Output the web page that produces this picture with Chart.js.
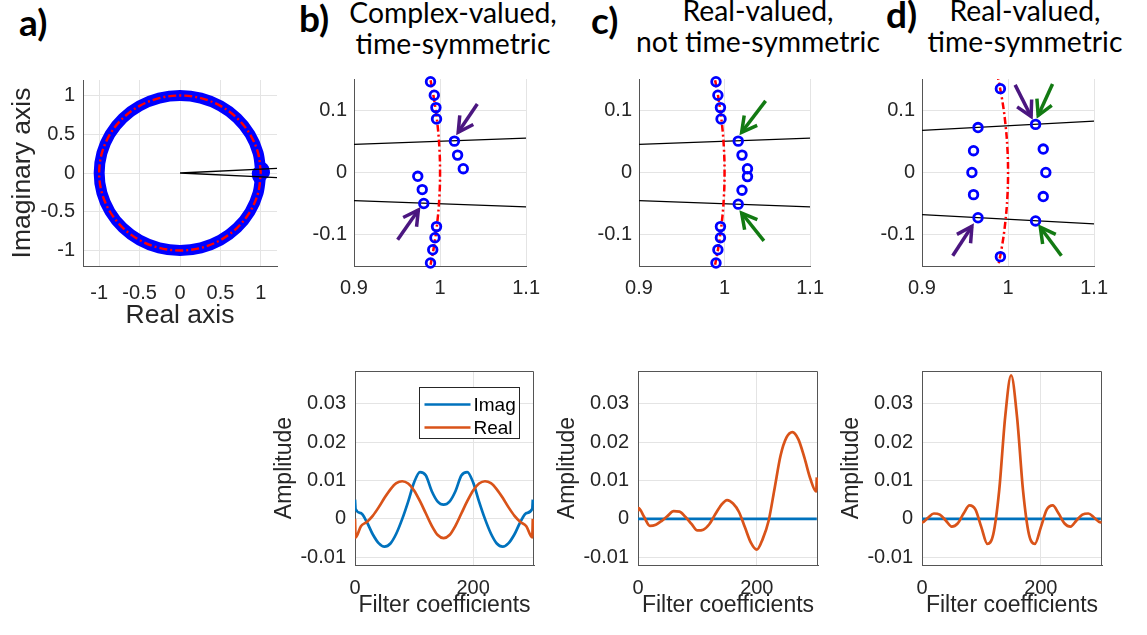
<!DOCTYPE html>
<html>
<head>
<meta charset="utf-8">
<script src="https://cdn.jsdelivr.net/npm/chart.js@4.4.0/dist/chart.umd.min.js"></script>
<style>
  body { margin: 0; background: #fff; width: 1147px; height: 635px; overflow: hidden; position: relative; }
  canvas { position: absolute; }
  .lbl { position: absolute; font-family: Lato, "Open Sans", sans-serif; font-weight: bold; font-size: 37px; line-height: 37px; color: #000; }
  .ttl { position: absolute; width: 320px; font-family: Lato, "Open Sans", sans-serif; font-size: 28.3px; line-height: 31px; text-align: center; white-space: nowrap; color: #000; }
</style>
</head>
<body>
<div class="lbl" style="left:19px;top:3px">a)</div>
<div class="lbl" style="left:299px;top:-1px">b)</div>
<div class="lbl" style="left:591px;top:1px">c)</div>
<div class="lbl" style="left:886px;top:-5px">d)</div>
<div class="ttl" style="left:293px;top:-3px">Complex-valued,<br>time-symmetric</div>
<div class="ttl" style="left:598px;top:-5px">Real-valued,<br>not time-symmetric</div>
<div class="ttl" style="left:865px;top:-5px">Real-valued,<br>time-symmetric</div>

<canvas id="zplane" width="290" height="272" style="left:0px;top:60px"></canvas>
<canvas id="zoomB" width="250" height="246" style="left:300px;top:60px"></canvas>
<canvas id="zoomC" width="249" height="246" style="left:585px;top:60px"></canvas>
<canvas id="zoomD" width="250" height="246" style="left:868px;top:60px"></canvas>
<canvas id="coefB" width="279" height="269" style="left:265px;top:350px"></canvas>
<canvas id="coefC" width="280" height="269" style="left:548px;top:350px"></canvas>
<canvas id="coefD" width="280" height="269" style="left:832px;top:350px"></canvas>

<script>
// ---- data ----
// unit circle, every 15 degrees
const unitCircle = [
  [1, 0], [0.9659, 0.2588], [0.866, 0.5], [0.7071, 0.7071], [0.5, 0.866], [0.2588, 0.9659],
  [0, 1], [-0.2588, 0.9659], [-0.5, 0.866], [-0.7071, 0.7071], [-0.866, 0.5], [-0.9659, 0.2588],
  [-1, 0], [-0.9659, -0.2588], [-0.866, -0.5], [-0.7071, -0.7071], [-0.5, -0.866], [-0.2588, -0.9659],
  [0, -1], [0.2588, -0.9659], [0.5, -0.866], [0.7071, -0.7071], [0.866, -0.5], [0.9659, -0.2588], [1, 0],
];
const rayA = [[1.2, 0.06], [0, 0], [1.2, -0.06]];

// unit circle near z = 1
const arcBC = [[0.98899, 0.148], [0.99277, 0.12], [0.99679, 0.08], [0.9992, 0.04], [1, 0],
  [0.9992, -0.04], [0.99679, -0.08], [0.99277, -0.12], [0.98899, -0.148]];
const arcD = [[0.98712, 0.16], [0.99277, 0.12], [0.99679, 0.08], [0.9992, 0.04], [1, 0],
  [0.9992, -0.04], [0.99679, -0.08], [0.99277, -0.12], [0.98712, -0.16]];

const rayUpBC = [[0.9, 0.045], [1.1, 0.055]];
const rayDnBC = [[0.9, -0.045], [1.1, -0.055]];
const rayUpD = [[0.9, 0.0675], [1.1, 0.0825]];
const rayDnD = [[0.9, -0.0675], [1.1, -0.0825]];

const polesB = [[0.9889, 0.1457], [0.9933, 0.1239], [0.9952, 0.1041], [0.9959, 0.0858],
  [1.0167, 0.0503], [1.0204, 0.0279], [1.027, 0.0061], [0.9741, -0.0061], [0.9793, -0.0274],
  [0.9811, -0.0497], [0.9959, -0.0868], [0.9941, -0.1046], [0.9915, -0.1239], [0.9889, -0.1452]];
const polesC = [[0.99, 0.1457], [0.9922, 0.1239], [0.9952, 0.1041], [0.9959, 0.0858],
  [1.016, 0.0503], [1.0204, 0.0279], [1.0268, 0.0061], [1.0268, -0.0066], [1.0204, -0.0284],
  [1.016, -0.0508], [0.9952, -0.0868], [0.9952, -0.1046], [0.9922, -0.1239], [0.99, -0.1452]];
const polesD = [[0.9911, 0.1345], [0.9651, 0.0721], [0.9599, 0.035], [0.958, 0], [0.9599, -0.0355],
  [0.9651, -0.0726], [0.9911, -0.135], [1.032, 0.0772], [1.0409, 0.0376], [1.0439, 0],
  [1.0409, -0.0386], [1.032, -0.0777]];

// arrows: [tail, tip]
const purpleB = [[[1.0433, 0.11], [1.0211, 0.0645]], [[0.9507, -0.108], [0.9748, -0.06]]];
const greenC = [[[1.048, 0.115], [1.02, 0.0645]], [[1.046, -0.1096], [1.02, -0.065]]];
const purpleD = [[[1.0082, 0.1406], [1.0268, 0.0898]], [[0.9357, -0.1335], [0.958, -0.0863]]];
const greenD = [[[1.0517, 0.1421], [1.035, 0.0914]], [[1.062, -0.1335], [1.0375, -0.0878]]];

// filter coefficients
const coefIdx = [0, 1, 10, 20, 30, 40, 50, 60, 70, 80, 90, 100, 110, 120, 130, 140, 150,
  160, 170, 180, 190, 200, 210, 220, 230, 240, 250, 260, 270, 280, 290, 300, 301];
const imagB = [0.005, 0.0026, 0.0015, -0.0008, -0.004, -0.0063, -0.0072, -0.0064, -0.0038, 0.0, 0.0045,
  0.0095, 0.0122, 0.0113, 0.0072, 0.0045, 0.0037, 0.0045, 0.0072, 0.0113, 0.0122, 0.0095, 0.0045, 0.0,
  -0.0038, -0.0064, -0.0072, -0.0063, -0.004, -0.0008, 0.0015, 0.0026, 0.005];
const realB = [0.0, -0.0048, -0.0019, -0.0008, 0.0008, 0.003, 0.0055, 0.0077, 0.0093, 0.0098, 0.0092,
  0.0074, 0.0046, 0.0014, -0.0018, -0.0042, -0.005, -0.0042, -0.0018, 0.0014, 0.0046, 0.0074, 0.0092,
  0.0098, 0.0093, 0.0077, 0.0055, 0.003, 0.0008, -0.0008, -0.0019, -0.0048, 0.0];
const imagC = [0, 0, 0, 0, 0, 0, 0, 0, 0, 0, 0, 0, 0, 0, 0, 0, 0, 0, 0, 0, 0, 0, 0, 0, 0, 0, 0, 0, 0, 0, 0, 0, 0];
const realC = [0.002, 0.0028, 0.0006, -0.0018, -0.0015, -0.0005, 0.0008, 0.002, 0.0019, 0.0005, -0.0013,
  -0.003, -0.0028, -0.0014, 0.0012, 0.0036, 0.0049, 0.004, 0.0018, -0.0022, -0.0062, -0.008, -0.0052,
  -0.0004, 0.008, 0.0165, 0.0212, 0.0226, 0.0207, 0.016, 0.0105, 0.0071, 0.0108];
const imagD = [0, 0, 0, 0, 0, 0, 0, 0, 0, 0, 0, 0, 0, 0, 0, 0, 0, 0, 0, 0, 0, 0, 0, 0, 0, 0, 0, 0, 0, 0, 0, 0, 0];
const realD = [-0.0006, -0.0009, 0.0003, 0.0014, 0.0011, -0.0004, -0.002, -0.0012, 0.0014, 0.0035, 0.0024,
  -0.0022, -0.0065, -0.004, 0.0075, 0.0265, 0.0374, 0.0265, 0.0075, -0.004, -0.0065, -0.0022, 0.0024,
  0.0035, 0.0014, -0.0012, -0.002, -0.0004, 0.0011, 0.0014, 0.0003, -0.0009, -0.0006];

// tick labels
const ticksUnit = [-1, -0.5, 0, 0.5, 1];
const ticksUnitLbl = ["-1", "-0.5", "0", "0.5", "1"];
const ticksRe = [0.9, 1, 1.1];
const ticksReLbl = ["0.9", "1", "1.1"];
const ticksIm = [-0.1, 0, 0.1];
const ticksImLbl = ["-0.1", "0", "0.1"];
const ticksCoef = [0, 200];
const ticksCoefLbl = ["0", "200"];
const ticksAmp = [-0.01, 0, 0.01, 0.02, 0.03];
const ticksAmpLbl = ["-0.01", "0", "0.01", "0.02", "0.03"];

// ---- style ----
const BLUE = "#0000ff";
const RED = "#ff0000";
const PURPLE = "#4b1680";
const GREEN = "#127a12";
const C_IMAG = "#0072BD";
const C_REAL = "#D95319";
const GRID = "#e4e4e4";
const AXIS = "#555";

Chart.defaults.font.family = "'Liberation Sans', Arial, sans-serif";
Chart.defaults.font.size = 20;
Chart.defaults.color = "#262626";

const xy = (pairs) => pairs.map(([x, y]) => ({ x, y }));

// open arrow head at the last point of flagged datasets
const arrowHeads = {
  id: "arrowHeads",
  afterDatasetsDraw(chart) {
    const { ctx } = chart;
    chart.data.datasets.forEach((ds, i) => {
      if (!ds.arrowHead) return;
      const pts = chart.getDatasetMeta(i).data;
      const tail = pts[0], tip = pts[pts.length - 1];
      const ang = Math.atan2(tip.y - tail.y, tip.x - tail.x);
      const len = 17, spread = 0.5;
      ctx.save();
      ctx.strokeStyle = ds.borderColor;
      ctx.lineWidth = ds.borderWidth;
      ctx.lineJoin = "miter";
      ctx.beginPath();
      ctx.moveTo(tip.x - len * Math.cos(ang - spread), tip.y - len * Math.sin(ang - spread));
      ctx.lineTo(tip.x, tip.y);
      ctx.lineTo(tip.x - len * Math.cos(ang + spread), tip.y - len * Math.sin(ang + spread));
      ctx.stroke();
      ctx.restore();
    });
  },
};

// top/right edges for the "box on" panels
const boxFrame = {
  id: "boxFrame",
  beforeDatasetsDraw(chart, args, opts) {
    if (!opts.show) return;
    const { ctx, chartArea: a } = chart;
    ctx.save();
    ctx.strokeStyle = AXIS;
    ctx.lineWidth = 1;
    ctx.beginPath();
    ctx.moveTo(a.left, Math.round(a.top) + 0.5);
    ctx.lineTo(Math.round(a.right) - 0.5, Math.round(a.top) + 0.5);
    ctx.lineTo(Math.round(a.right) - 0.5, a.bottom);
    ctx.stroke();
    ctx.restore();
  },
};

// legend box inside the plot area
const innerLegend = {
  id: "innerLegend",
  afterDatasetsDraw(chart, args, opts) {
    if (!opts.show) return;
    const { ctx, chartArea: a } = chart;
    const x0 = Math.round(a.right - 115) + 0.5, y0 = Math.round(a.top + 16) + 0.5;
    ctx.save();
    ctx.fillStyle = "#fff";
    ctx.fillRect(x0, y0, 100, 51);
    ctx.strokeStyle = "#262626";
    ctx.lineWidth = 1;
    ctx.strokeRect(x0, y0, 100, 51);
    ctx.font = "19px 'Liberation Sans', Arial, sans-serif";
    ctx.textBaseline = "middle";
    ctx.fillStyle = "#000";
    let row = 0;
    chart.data.datasets.forEach((ds) => {
      if (!ds.label) return;
      const yy = y0 + 17 + row * 23;
      ctx.strokeStyle = ds.borderColor;
      ctx.lineWidth = ds.borderWidth;
      ctx.beginPath();
      ctx.moveTo(x0 + 5, yy);
      ctx.lineTo(x0 + 51, yy);
      ctx.stroke();
      ctx.fillText(ds.label, x0 + 54, yy + 1);
      row++;
    });
    ctx.restore();
  },
};

function axis(o) {
  return {
    type: "linear",
    min: o.min,
    max: o.max,
    afterBuildTicks: (s) => { s.ticks = o.ticks.map((v) => ({ value: v })); },
    afterFit: (s) => { if (o.width) s.width = o.width; if (o.height) s.height = o.height; },
    grid: { color: GRID, lineWidth: 1, drawTicks: false },
    border: { display: true, color: AXIS, width: 1 },
    ticks: {
      padding: o.pad,
      autoSkip: false,
      maxRotation: 0,
      callback: (v, i) => o.labels[i],
    },
    title: o.title
      ? { display: true, text: o.title, font: { size: o.titleSize }, color: "#262626", padding: { top: o.titlePad, bottom: 0 } }
      : { display: false },
  };
}

function makeChart(id, datasets, x, y, pad, extra) {
  return new Chart(document.getElementById(id), {
    type: "scatter",
    data: { datasets },
    plugins: [arrowHeads, boxFrame, innerLegend],
    options: {
      responsive: false,
      animation: false,
      layout: { padding: pad },
      plugins: {
        legend: { display: false },
        tooltip: { enabled: false },
        boxFrame: { show: !!(extra && extra.box) },
        innerLegend: { show: !!(extra && extra.legend) },
      },
      scales: { x, y },
    },
  });
}

function lineSet(pairs, color, width, dash, tension) {
  return {
    data: xy(pairs), showLine: true, borderColor: color, borderWidth: width,
    borderDash: dash || [], pointRadius: 0, tension: tension || 0, fill: false,
  };
}
function poleSet(pairs, radius, width) {
  return {
    data: xy(pairs), showLine: false, pointStyle: "circle", pointRadius: radius,
    pointBorderWidth: width, pointBorderColor: BLUE, pointBackgroundColor: "rgba(0,0,0,0)", clip: false,
  };
}
function arrowSets(list, color) {
  return list.map((a) => ({ ...lineSet(a, color, 3.5), arrowHead: true, borderCapStyle: "butt" }));
}

// ---- a) z-plane ----
makeChart(
  "zplane",
  [
    lineSet(rayA, "#000", 1.3),
    lineSet(unitCircle, RED, 2.4, [8, 3, 2, 3], 0.34),
    poleSet(polesB.filter((p) => Math.abs(p[1]) < 0.06), 5, 4),
    lineSet(unitCircle, BLUE, 11, [], 0.34),
  ],
  axis({ min: -1.2, max: 1.2, ticks: ticksUnit, labels: ticksUnitLbl, pad: 15, height: 66, title: "Real axis", titleSize: 26.5, titlePad: 0 }),
  axis({ min: -1.2, max: 1.2, ticks: ticksUnit, labels: ticksUnitLbl, pad: 8, width: 83, title: "Imaginary axis", titleSize: 26.5, titlePad: 7 }),
  { left: 0, right: 13, top: 8, bottom: 0 }
);

// ---- b-d) zoom near z = 1 ----
function zoomPanel(id, poles, arc, rays, arrows) {
  makeChart(
    id,
    [
      ...arrows,
      poleSet(poles, 4.3, 2.8),
      lineSet(arc, RED, 2.5, [7, 3, 2, 3], 0.4),
      ...rays.map((r) => lineSet(r, "#000", 1.3)),
    ],
    axis({ min: 0.9, max: 1.1, ticks: ticksRe, labels: ticksReLbl, pad: 10, height: 40 }),
    axis({ min: -0.15, max: 0.15, ticks: ticksIm, labels: ticksImLbl, pad: 7, width: 54 }),
    { left: 0, right: 16, top: 9, bottom: 0 }
  );
}
zoomPanel("zoomB", polesB, arcBC, [rayUpBC, rayDnBC], arrowSets(purpleB, PURPLE));
zoomPanel("zoomC", polesC, arcBC, [rayUpBC, rayDnBC], arrowSets(greenC, GREEN));
zoomPanel("zoomD", polesD, arcD, [rayUpD, rayDnD], [...arrowSets(purpleD, PURPLE), ...arrowSets(greenD, GREEN)]);

// ---- filter coefficients ----
function coefPanel(id, imag, real, legend) {
  const series = (vals) => coefIdx.map((c, i) => [c, vals[i]]);
  makeChart(
    id,
    [
      { ...lineSet(series(imag), C_IMAG, 2.7), label: "Imag", order: 1, cubicInterpolationMode: "monotone" },
      { ...lineSet(series(real), C_REAL, 2.7), label: "Real", order: 0, cubicInterpolationMode: "monotone" },
    ],
    axis({ min: 0, max: 303, ticks: ticksCoef, labels: ticksCoefLbl, pad: 11, height: 54, title: "Filter coefficients", titleSize: 23, titlePad: 0 }),
    axis({ min: -0.012, max: 0.0385, ticks: ticksAmp, labels: ticksAmpLbl, pad: 9, width: 90, title: "Amplitude", titleSize: 23, titlePad: 6 }),
    { left: 0, right: 10, top: 16, bottom: 0 },
    { box: true, legend }
  );
}
coefPanel("coefB", imagB, realB, true);
coefPanel("coefC", imagC, realC, false);
coefPanel("coefD", imagD, realD, false);
</script>
</body>
</html>
